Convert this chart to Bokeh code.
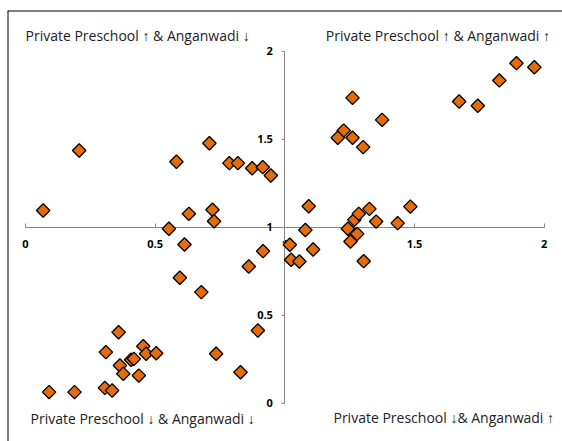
from bokeh.plotting import figure
from bokeh.models import LinearAxis, FixedTicker, Range1d, Label, Span, ColumnDataSource
from bokeh.embed import file_html
from bokeh.resources import INLINE
import math

# ---- data (ratio of private preschool, ratio of anganwadi) ----
x_vals = [
    0.068, 0.207, 0.582, 0.709, 0.786, 0.819, 0.874, 0.915, 0.946, 0.630, 0.721, 0.727, 0.553,
    1.261, 1.375, 1.227, 1.204, 1.261, 1.302, 1.893, 1.962, 1.827, 1.672, 1.744, 1.484,
    1.092, 1.079, 1.019, 1.024, 1.056, 1.109, 1.243, 1.268, 1.285, 1.326, 1.352, 1.279, 1.253, 1.304, 1.435,
    0.613, 0.595, 0.678, 0.861, 0.916, 0.896, 0.735, 0.829,
    0.091, 0.189, 0.306, 0.334, 0.310, 0.359, 0.364, 0.377, 0.407, 0.418, 0.437, 0.454, 0.465, 0.504,
]
y_vals = [
    1.095, 1.436, 1.372, 1.477, 1.364, 1.364, 1.335, 1.341, 1.294, 1.076, 1.099, 1.034, 0.991,
    1.735, 1.610, 1.549, 1.508, 1.508, 1.455, 1.932, 1.909, 1.834, 1.714, 1.690, 1.117,
    1.119, 0.984, 0.900, 0.815, 0.805, 0.873, 0.991, 1.042, 1.076, 1.104, 1.032, 0.962, 0.919, 0.807, 1.023,
    0.902, 0.713, 0.631, 0.777, 0.864, 0.413, 0.281, 0.176,
    0.063, 0.063, 0.087, 0.072, 0.290, 0.403, 0.214, 0.167, 0.247, 0.252, 0.157, 0.324, 0.281, 0.284,
]
tick_values = [0, 0.5, 1, 1.5, 2]
quadrant_labels = [
    "Private Preschool \u2191 & Anganwadi \u2193",
    "Private Preschool \u2191 & Anganwadi \u2191",
    "Private Preschool \u2193 & Anganwadi \u2193",
    "Private Preschool \u2193& Anganwadi \u2191",
]

# ---- layout ----
W, H = 562, 441
LEFT, TOP = 7, 10
x_scale = 259.35
y_scale = 176.0
x0 = -(25 - LEFT) / x_scale
x1 = x0 + (W - LEFT) / x_scale
y1 = 2 + (50.7 - TOP) / y_scale
y0 = y1 - (H - TOP) / y_scale

def dx(px):
    return x0 + (px - LEFT) / x_scale

def dy(py):
    return y1 - (py - TOP) / y_scale

p = figure(width=W, height=H, x_range=Range1d(x0, x1), y_range=Range1d(y0, y1),
           output_backend="svg", toolbar_location=None,
           x_axis_type=None, y_axis_type=None,
           min_border_left=LEFT, min_border_right=0, min_border_bottom=0, min_border_top=TOP)
p.grid.visible = False
p.outline_line_color = None
p.background_fill_color = "white"

# frame lines (only the top and left edges fall inside the window)
p.add_layout(Span(location=x0, dimension="height", line_color="black", line_width=2))
p.add_layout(Span(location=y1, dimension="width", line_color="black", line_width=2))

axis_color = "#868686"
xa = LinearAxis(fixed_location=1, bounds=(0, 2), ticker=FixedTicker(ticks=tick_values))
xa.axis_line_color = axis_color
xa.major_tick_line_color = axis_color
xa.major_tick_in = 4
xa.major_tick_out = 0
xa.minor_tick_line_color = None
xa.major_label_standoff = 13
xa.major_label_text_font = "Open Sans"
xa.major_label_text_font_style = "bold"
xa.major_label_text_font_size = "11px"
xa.major_label_text_color = "black"
xa.level = "underlay"
p.add_layout(xa, "below")

ya = LinearAxis(fixed_location=1, bounds=(0, 2), ticker=FixedTicker(ticks=tick_values))
ya.axis_line_color = axis_color
ya.major_tick_line_color = axis_color
ya.major_tick_in = 0
ya.major_tick_out = 3
ya.minor_tick_line_color = None
ya.major_label_standoff = 9
ya.major_label_text_font = "Open Sans"
ya.major_label_text_font_style = "bold"
ya.major_label_text_font_size = "11px"
ya.major_label_text_color = "black"
ya.level = "underlay"
p.add_layout(ya, "left")

src = ColumnDataSource(dict(x=x_vals, y=y_vals))
p.scatter("x", "y", source=src, marker="square", size=9.5, angle=math.pi / 4,
          fill_color="#E46C0A", line_color="black", line_width=1.3)

label_specs = [
    (dx(25), dy(34.5), "left"),
    (dx(549.5), dy(34.5), "right"),
    (dx(30), dy(418), "left"),
    (dx(553.5), dy(416.5), "right"),
]
for (lx, ly, align), txt in zip(label_specs, quadrant_labels):
    p.add_layout(Label(x=lx, y=ly, text=txt, text_align=align, text_baseline="alphabetic",
                       text_font="Open Sans", text_font_size="14px", text_color="#222222"))

open("out.html", "w").write(file_html(p, INLINE))
